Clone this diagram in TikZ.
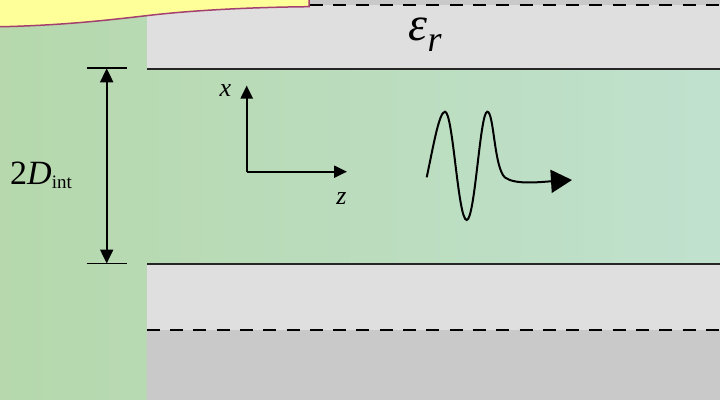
\documentclass[tikz,border=0pt]{standalone}
\usepackage{fontspec}
\setmainfont{Liberation Serif}
\usetikzlibrary{arrows.meta}
\definecolor{bgL}{HTML}{B6D8AC}
\definecolor{bgM}{HTML}{C7E4C3}
\definecolor{bgR}{HTML}{C0E1CE}
\definecolor{grayL}{HTML}{DFDFDF}
\definecolor{grayD}{HTML}{C9C9C9}
\definecolor{bannerFill}{HTML}{FFFF99}
\definecolor{bannerEdge}{HTML}{A3406F}
\tikzset{
  boundary/.style={line width=2pt, black!85},
  dashline/.style={line width=2.8pt, black, dash pattern=on 13pt off 10.3pt},
  tick/.style={line width=1.7pt, black},
  dimarrow/.style={line width=2pt, black, {Triangle[length=14pt,width=13pt]}-{Triangle[length=14pt,width=13pt]}},
  axis/.style={line width=2.2pt, black, -{Triangle[length=13pt,width=12pt]}},
  wave/.style={line width=2pt, black, -{Triangle[length=21pt,width=23pt]}},
  lbl/.style={inner sep=0pt, font=\fontsize{26}{26}\selectfont\itshape},
}
\begin{document}
\begin{tikzpicture}[x=1pt,y=-1pt]
\useasboundingbox (0,0) rectangle (720,399);
% background
\shade[left color=bgL, middle color=bgM, right color=bgR] (0,0) rectangle (720,399);
% dielectric bands
\fill[grayD] (147,-1) rectangle (721,5);
\fill[grayL] (147,5) rectangle (721,69.3);
\fill[grayL] (147,264) rectangle (721,330);
\fill[grayD] (147,330) rectangle (721,400);
% dashed lines
\coordinate (dtl) at (146.7,5);
\coordinate (dtr) at (721,5);
\coordinate (dbl) at (146.7,330);
\coordinate (dbr) at (721,330);
\draw[dashline] (dtl) -- (dtr);
\draw[dashline] (dbl) -- (dbr);
% boundaries
\coordinate (btl) at (147,69.3);
\coordinate (btr) at (721,69.3);
\coordinate (bbl) at (147,264);
\coordinate (bbr) at (721,264);
\draw[boundary] (btl) -- (btr);
\draw[boundary] (bbl) -- (bbr);
% banner
\filldraw[fill=bannerFill, draw=bannerEdge, line width=1.5pt]
  (-2,-2) -- (309,-2) -- (309,6.7)
  .. controls (250,7.2) and (190,10.5) .. (148,15.5)
  .. controls (105,20.5) and (60,25.5) .. (-2,26.8) -- cycle;
% dimension arrow
\coordinate (tkTL) at (86.7,68.3);
\coordinate (tkTR) at (127.3,68.3);
\coordinate (tkBL) at (86.7,263.5);
\coordinate (tkBR) at (127.3,263.5);
\coordinate (dTop) at (106.7,68.3);
\coordinate (dBot) at (106.7,263.5);
\draw[tick] (tkTL) -- (tkTR);
\draw[tick] (tkBL) -- (tkBR);
\draw[dimarrow] (dTop) -- (dBot);
\node[inner sep=0pt, anchor=base west] (dlabel) at (10,184)
  {{\fontsize{34}{34}\selectfont 2\textit{D}}\raisebox{-4pt}{\fontsize{19}{19}\selectfont int}};
% permittivity label
\node[inner sep=0pt, anchor=base west] (eps) at (408,40.5)
  {{\fontsize{48}{48}\selectfont\itshape ε}\kern0.5pt\raisebox{-11pt}{\fontsize{36}{36}\selectfont\itshape r}};
% axes
\coordinate (org) at (246.7,171.7);
\coordinate (xtip) at (246.7,85.5);
\coordinate (ztip) at (347,171.7);
\draw[axis] (org) -- (xtip);
\draw[axis] (org) -- (ztip);
\node[lbl] (xl) at (225.5,91) {x};
\node[lbl] (zl) at (341.5,199) {z};
% wave packet
\coordinate (w0) at (426.7,177.3);
\coordinate (wend) at (572,180);
\draw[wave] (w0)
  .. controls (433,148) and (439,111.7) .. (445,111.7)
  .. controls (453,111.7) and (458,220) .. (466.7,220)
  .. controls (475,220) and (480,111.7) .. (487.3,111.7)
  .. controls (494,111.7) and (494,168) .. (505,177.5)
  .. controls (515,185) and (540,182) .. (wend);
\end{tikzpicture}
\end{document}
